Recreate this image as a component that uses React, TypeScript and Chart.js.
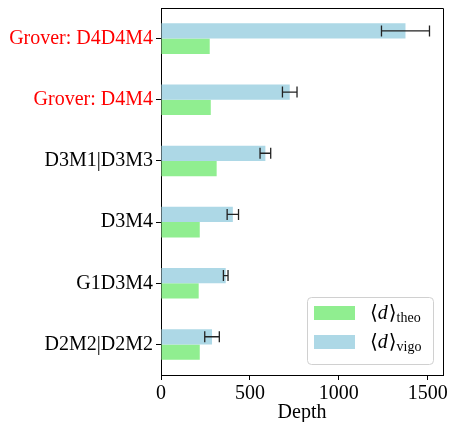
import React, { useEffect, useRef } from "react";
import { Chart, registerables } from "chart.js";

Chart.register(...registerables);

const categories = ["Grover: D4D4M4", "Grover: D4M4", "D3M1|D3M3", "D3M4", "G1D3M4", "D2M2|D2M2"];
const labelColors = ["#ff0000", "#ff0000", "#000000", "#000000", "#000000", "#000000"];
const vigoValues = [1375, 724, 587, 404, 364, 287];
const vigoStd = [135, 41, 30, 32, 13, 41];
const theoValues = [274, 280, 313, 218, 212, 218];
const xTicks = [0, 500, 1000, 1500];
const xMax = 1586;

const SERIF = '"Liberation Serif", "DejaVu Serif", serif';

const errorBarPlugin = {
  id: "errorBars",
  afterDatasetsDraw(chart: any) {
    const meta = chart.getDatasetMeta(0);
    const xs = chart.scales.x;
    const ctx = chart.ctx;
    ctx.save();
    ctx.strokeStyle = "#222";
    ctx.lineWidth = 1.3;
    meta.data.forEach((bar: any, i: number) => {
      const y = bar.y;
      const lo = xs.getPixelForValue(vigoValues[i] - vigoStd[i]);
      const hi = xs.getPixelForValue(vigoValues[i] + vigoStd[i]);
      const cap = 5.5;
      ctx.beginPath();
      ctx.moveTo(lo, y);
      ctx.lineTo(hi, y);
      ctx.moveTo(lo, y - cap);
      ctx.lineTo(lo, y + cap);
      ctx.moveTo(hi, y - cap);
      ctx.lineTo(hi, y + cap);
      ctx.stroke();
    });
    ctx.restore();
  },
};

const frameLegendPlugin = {
  id: "frameLegend",
  afterDraw(chart: any) {
    const { ctx, chartArea } = chart;
    ctx.save();
    // top & right spines
    ctx.strokeStyle = "#000";
    ctx.lineWidth = 1;
    ctx.beginPath();
    ctx.moveTo(chartArea.left, chartArea.top + 0.5);
    ctx.lineTo(chartArea.right + 0.5, chartArea.top + 0.5);
    ctx.lineTo(chartArea.right + 0.5, chartArea.bottom);
    ctx.stroke();

    // legend
    const w = 126;
    const h = 67;
    const x0 = chartArea.right - 10 - w;
    const y0 = chartArea.bottom - 11 - h;
    ctx.fillStyle = "rgba(255,255,255,0.8)";
    ctx.strokeStyle = "#d0d0d0";
    ctx.lineWidth = 1;
    ctx.beginPath();
    (ctx as any).roundRect(x0 + 0.5, y0 + 0.5, w, h, 4);
    ctx.fill();
    ctx.stroke();

    const entries = [
      { color: "#90ee90", sub: "theo" },
      { color: "#add8e6", sub: "vigo" },
    ];
    entries.forEach((e, i) => {
      const cy = y0 + 16 + i * 29;
      ctx.fillStyle = e.color;
      ctx.fillRect(x0 + 7, cy - 7, 41, 14);
      ctx.fillStyle = "#000";
      ctx.textBaseline = "alphabetic";
      ctx.textAlign = "left";
      let tx = x0 + 63;
      const base = cy + 6;
      ctx.font = `20px ${SERIF}`;
      ctx.fillText("\u27E8", tx, base);
      tx += ctx.measureText("\u27E8").width;
      ctx.font = `italic 20px ${SERIF}`;
      ctx.fillText("d", tx, base);
      tx += ctx.measureText("d").width + 1;
      ctx.font = `20px ${SERIF}`;
      ctx.fillText("\u27E9", tx, base);
      tx += ctx.measureText("\u27E9").width;
      ctx.font = `14px ${SERIF}`;
      ctx.fillText(e.sub, tx, base + 3);
    });
    ctx.restore();
  },
};

export default function App() {
  const ref = useRef<HTMLCanvasElement | null>(null);
  useEffect(() => {
    if (!ref.current) return;
    const chart = new Chart(ref.current, {
      type: "bar",
      data: {
        labels: categories,
        datasets: [
          {
            label: "vigo",
            data: vigoValues,
            backgroundColor: "#add8e6",
            categoryPercentage: 0.5,
            barPercentage: 1.0,
          },
          {
            label: "theo",
            data: theoValues,
            backgroundColor: "#90ee90",
            categoryPercentage: 0.5,
            barPercentage: 1.0,
          },
        ],
      },
      options: {
        indexAxis: "y",
        animation: false,
        responsive: true,
        maintainAspectRatio: false,
        layout: { padding: { top: 8, right: 6, left: 0, bottom: 0 } },
        plugins: {
          legend: { display: false },
          tooltip: { enabled: false },
        },
        scales: {
          x: {
            type: "linear",
            min: 0,
            max: xMax,
            afterBuildTicks: (scale: any) => {
              scale.ticks = xTicks.map((v) => ({ value: v }));
            },
            afterFit: (scale: any) => {
              scale.height = 47;
              scale.paddingLeft = 0;
              scale.paddingRight = 0;
              scale.paddingTop = 0;
              scale.paddingBottom = 0;
            },
            ticks: {
              font: { family: SERIF, size: 20 },
              color: "#000",
              padding: 2,
              maxRotation: 0,
              includeBounds: false,
              callback: (v: any) => String(v),
            },
            grid: {
              drawOnChartArea: false,
              drawTicks: true,
              tickLength: 5,
              color: "#000",
            },
            border: { display: true, color: "#000", width: 1 },
            title: {
              display: true,
              text: "Depth",
              font: { family: SERIF, size: 20, lineHeight: 1 },
              color: "#000",
              padding: { top: 0, bottom: -1 },
            },
          },
          y: {
            type: "category",
            offset: true,
            afterFit: (scale: any) => {
              scale.width = 161;
              scale.paddingLeft = 0;
              scale.paddingRight = 0;
              scale.paddingTop = 0;
              scale.paddingBottom = 0;
            },
            ticks: {
              font: { family: SERIF, size: 20 },
              color: (c: any) => labelColors[c.index] || "#000",
              padding: 3,
            },
            grid: {
              offset: false,
              drawOnChartArea: false,
              drawTicks: true,
              tickLength: 5,
              color: "#000",
            },
            border: { display: true, color: "#000", width: 1 },
          },
        },
      },
      plugins: [errorBarPlugin, frameLegendPlugin],
    });
    return () => chart.destroy();
  }, []);
  return (
    <div style={{ position: "fixed", left: 0, top: 0, width: 449, height: 422, background: "#fff" }}>
      <canvas ref={ref} />
    </div>
  );
}
